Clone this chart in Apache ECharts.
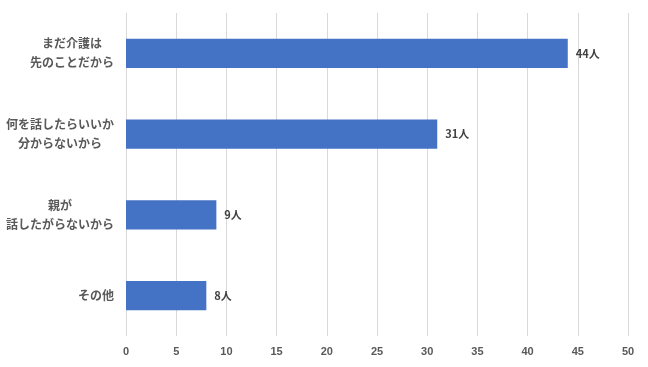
<!DOCTYPE html>
<html><head><meta charset="utf-8">
<script src="https://cdn.jsdelivr.net/npm/echarts@6/dist/echarts.min.js"></script>
<style>html,body{margin:0;padding:0;background:#fff}#c{width:648px;height:367px}</style>
</head><body><div id="c"></div>
<script>
const categories = ['まだ介護は\n先のことだから', '何を話したらいいか\n分からないから', '親が\n話したがらないから', 'その他'];
const values = [44, 31, 9, 8];
const unit = '人';
const xMin = 0, xMax = 50, xStep = 5;

const chart = echarts.init(document.getElementById('c'));
chart.setOption({
  animation: false,
  textStyle: {fontFamily: '"Noto Sans CJK JP", "Noto Sans", sans-serif'},
  grid: {left: 126, right: 20, top: 13, bottom: 31, containLabel: false},
  xAxis: {
    type: 'value', min: xMin, max: xMax, interval: xStep,
    axisLine: {show: false}, axisTick: {show: false},
    splitLine: {show: true, lineStyle: {color: '#d9d9d9', width: 1}},
    axisLabel: {color: '#595959', fontSize: 11, fontWeight: 'bold', margin: 10,
      fontFamily: '"Liberation Sans", Arial, sans-serif'}
  },
  yAxis: {
    type: 'category', data: categories, inverse: true,
    axisLine: {show: false}, axisTick: {show: false},
    axisLabel: {color: '#595959', fontSize: 12, fontWeight: 'bold', margin: 12, lineHeight: 19, align: 'right',
      formatter: v => v.split('\n').map(s => '{c|' + s + '}').join('\n'),
      rich: {c: {align: 'center', color: '#595959', fontSize: 12, fontWeight: 'bold', lineHeight: 19,
        fontFamily: '"Noto Sans CJK JP", sans-serif'}}}
  },
  series: [{
    type: 'bar', data: values, barWidth: '36%',
    itemStyle: {color: '#4472C4'},
    label: {show: true, position: 'right', distance: 8, color: '#404040', fontSize: 11, fontWeight: 'bold',
      formatter: p => p.value + unit}
  }]
});
</script></body></html>
